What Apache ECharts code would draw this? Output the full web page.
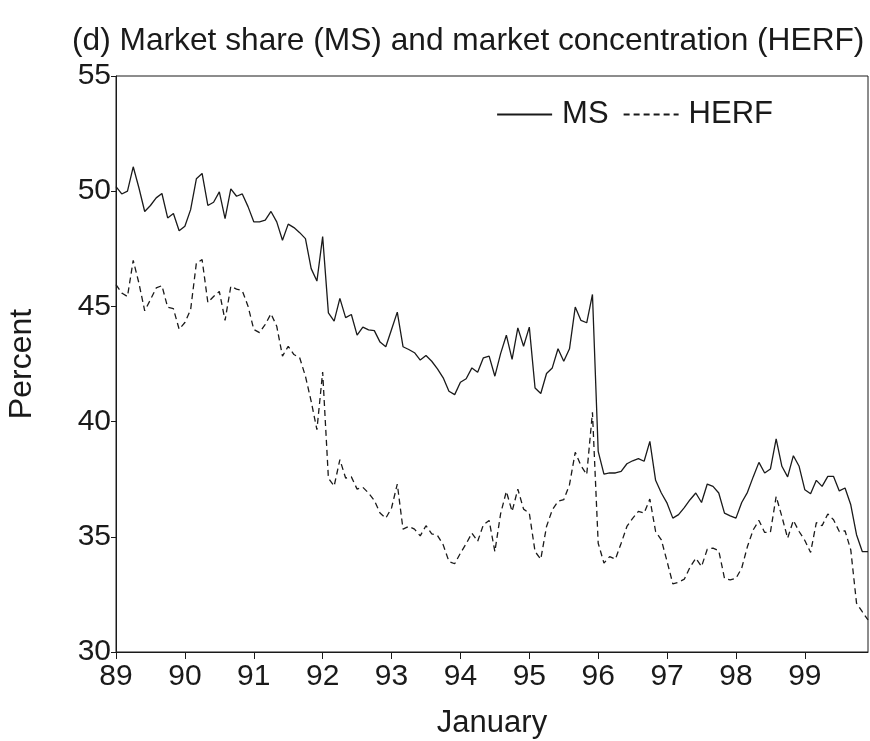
<!DOCTYPE html>
<html>
<head>
<meta charset="utf-8">
<script src="https://cdn.jsdelivr.net/npm/echarts@6/dist/echarts.min.js"></script>
<style>
  html, body { margin: 0; padding: 0; background: #fff; }
  #chart { width: 870px; height: 741px; }
</style>
</head>
<body>
<div id="chart"></div>
<script>
// Jan 1989 .. Dec 1999, monthly
const years = ['89', '90', '91', '92', '93', '94', '95', '96', '97', '98', '99'];
const months = [];
years.forEach(y => {
  for (let m = 1; m <= 12; m++) months.push(y + '-' + (m < 10 ? '0' + m : m));
});

const msData = [
  50.2, 49.88, 50.0, 51.06, 50.14, 49.12, 49.38, 49.71, 49.9, 48.84, 49.03, 48.28,
  48.48, 49.2, 50.54, 50.77, 49.38, 49.52, 49.97, 48.81, 50.1, 49.78, 49.88, 49.33,
  48.67, 48.67, 48.74, 49.12, 48.67, 47.87, 48.57, 48.42, 48.2, 47.94, 46.64, 46.1,
  48.03, 44.72, 44.36, 45.35, 44.51, 44.65, 43.75, 44.1, 43.98, 43.95, 43.45, 43.25,
  44.0, 44.75, 43.25, 43.13, 42.99, 42.67, 42.87, 42.62, 42.29, 41.9, 41.32, 41.17,
  41.71, 41.86, 42.33, 42.14, 42.77, 42.84, 41.97, 42.95, 43.75, 42.7, 44.07, 43.27,
  44.1, 41.46, 41.22, 42.09, 42.33, 43.16, 42.62, 43.16, 44.97, 44.39, 44.29, 45.52,
  38.71, 37.72, 37.77, 37.77, 37.84, 38.17, 38.3, 38.39, 38.28, 39.14, 37.45, 36.9,
  36.46, 35.81, 35.96, 36.27, 36.61, 36.9, 36.49, 37.29, 37.19, 36.9, 36.03, 35.91,
  35.81, 36.49, 36.93, 37.6, 38.23, 37.77, 37.94, 39.25, 38.06, 37.6, 38.52, 38.06,
  37.04, 36.87, 37.45, 37.19, 37.62, 37.62, 36.99, 37.12, 36.39, 35.09, 34.36, 34.36
];

const herfData = [
  45.94, 45.58, 45.43, 47.0, 46.0, 44.81, 45.29, 45.8, 45.9, 44.96, 44.9, 44.01,
  44.3, 44.86, 46.88, 47.03, 45.17, 45.43, 45.65, 44.39, 45.87, 45.75, 45.68, 45.01,
  44.0, 43.86, 44.22, 44.68, 44.14, 42.84, 43.27, 42.91, 42.77, 41.97, 40.88, 39.65,
  42.15, 37.55, 37.2, 38.35, 37.55, 37.6, 37.07, 37.15, 36.9, 36.58, 36.03, 35.81,
  36.25, 37.29, 35.33, 35.45, 35.33, 35.04, 35.48, 35.13, 35.06, 34.65, 33.93, 33.83,
  34.29, 34.7, 35.16, 34.8, 35.52, 35.71, 34.36, 36.0, 36.97, 36.1, 37.07, 36.2,
  36.03, 34.36, 34.03, 35.45, 36.17, 36.54, 36.61, 37.26, 38.67, 38.09, 37.7, 40.4,
  34.72, 33.86, 34.14, 34.03, 34.72, 35.45, 35.8, 36.1, 36.03, 36.64, 35.23, 34.87,
  33.93, 32.96, 33.03, 33.16, 33.68, 34.07, 33.71, 34.46, 34.51, 34.4, 33.2, 33.13,
  33.2, 33.64, 34.58, 35.3, 35.71, 35.19, 35.2, 36.75, 35.88, 34.94, 35.71, 35.23,
  34.84, 34.32, 35.62, 35.48, 35.99, 35.74, 35.23, 35.26, 34.43, 32.12, 31.75, 31.39
];

const font = '"Liberation Sans", Arial, sans-serif';
const ink = '#1a1a1a';

const chart = echarts.init(document.getElementById('chart'));

const option = {
  animation: false,
  title: {
    text: '(d) Market share (MS) and market concentration (HERF)',
    left: 67,
    top: 20,
    textStyle: {
      fontFamily: font,
      fontSize: 31.7,
      fontWeight: 'normal',
      color: ink
    }
  },
  legend: {
    top: 94,
    right: 92,
    itemWidth: 55,
    itemHeight: 14,
    itemGap: 14,
    itemStyle: { opacity: 0 },
    textStyle: {
      fontFamily: font,
      fontSize: 31,
      color: ink,
      padding: [0, 0, 0, 5]
    },
    data: ['MS', 'HERF']
  },
  grid: {
    left: 116,
    right: 2,
    top: 76,
    bottom: 89,
    outerBoundsMode: 'none',
    containLabel: false,
    show: true,
    borderColor: ink,
    borderWidth: 1
  },
  xAxis: {
    type: 'category',
    data: months,
    boundaryGap: false,
    name: 'January',
    nameLocation: 'middle',
    nameGap: 56,
    nameTextStyle: {
      fontFamily: font,
      fontSize: 31,
      color: ink
    },
    axisLine: { lineStyle: { color: ink, width: 1 } },
    axisTick: {
      inside: false,
      length: 7,
      interval: (i) => i % 12 === 0,
      lineStyle: { color: ink }
    },
    axisLabel: {
      interval: (i) => i % 12 === 0,
      formatter: (v) => v.slice(0, 2),
      fontFamily: font,
      fontSize: 30,
      color: ink,
      margin: 10
    },
    splitLine: { show: false }
  },
  yAxis: {
    type: 'value',
    min: 30,
    max: 55,
    interval: 5,
    name: 'Percent',
    nameLocation: 'middle',
    nameGap: 78,
    nameTextStyle: {
      fontFamily: font,
      fontSize: 32,
      color: ink
    },
    axisLine: { show: true, lineStyle: { color: ink, width: 1 } },
    axisTick: { show: true, length: 5, lineStyle: { color: ink } },
    axisLabel: {
      fontFamily: font,
      fontSize: 30,
      color: ink,
      margin: 5
    },
    splitLine: { show: false }
  },
  series: [
    {
      name: 'MS',
      type: 'line',
      data: msData,
      symbol: 'none',
      lineStyle: { color: ink, width: 1.3, type: 'solid' },
      itemStyle: { color: ink }
    },
    {
      name: 'HERF',
      type: 'line',
      data: herfData,
      symbol: 'none',
      lineStyle: { color: ink, width: 1.3, type: [6, 4] },
      itemStyle: { color: ink }
    }
  ]
};

chart.setOption(option);
window.addEventListener('resize', () => chart.resize());
</script>
</body>
</html>
